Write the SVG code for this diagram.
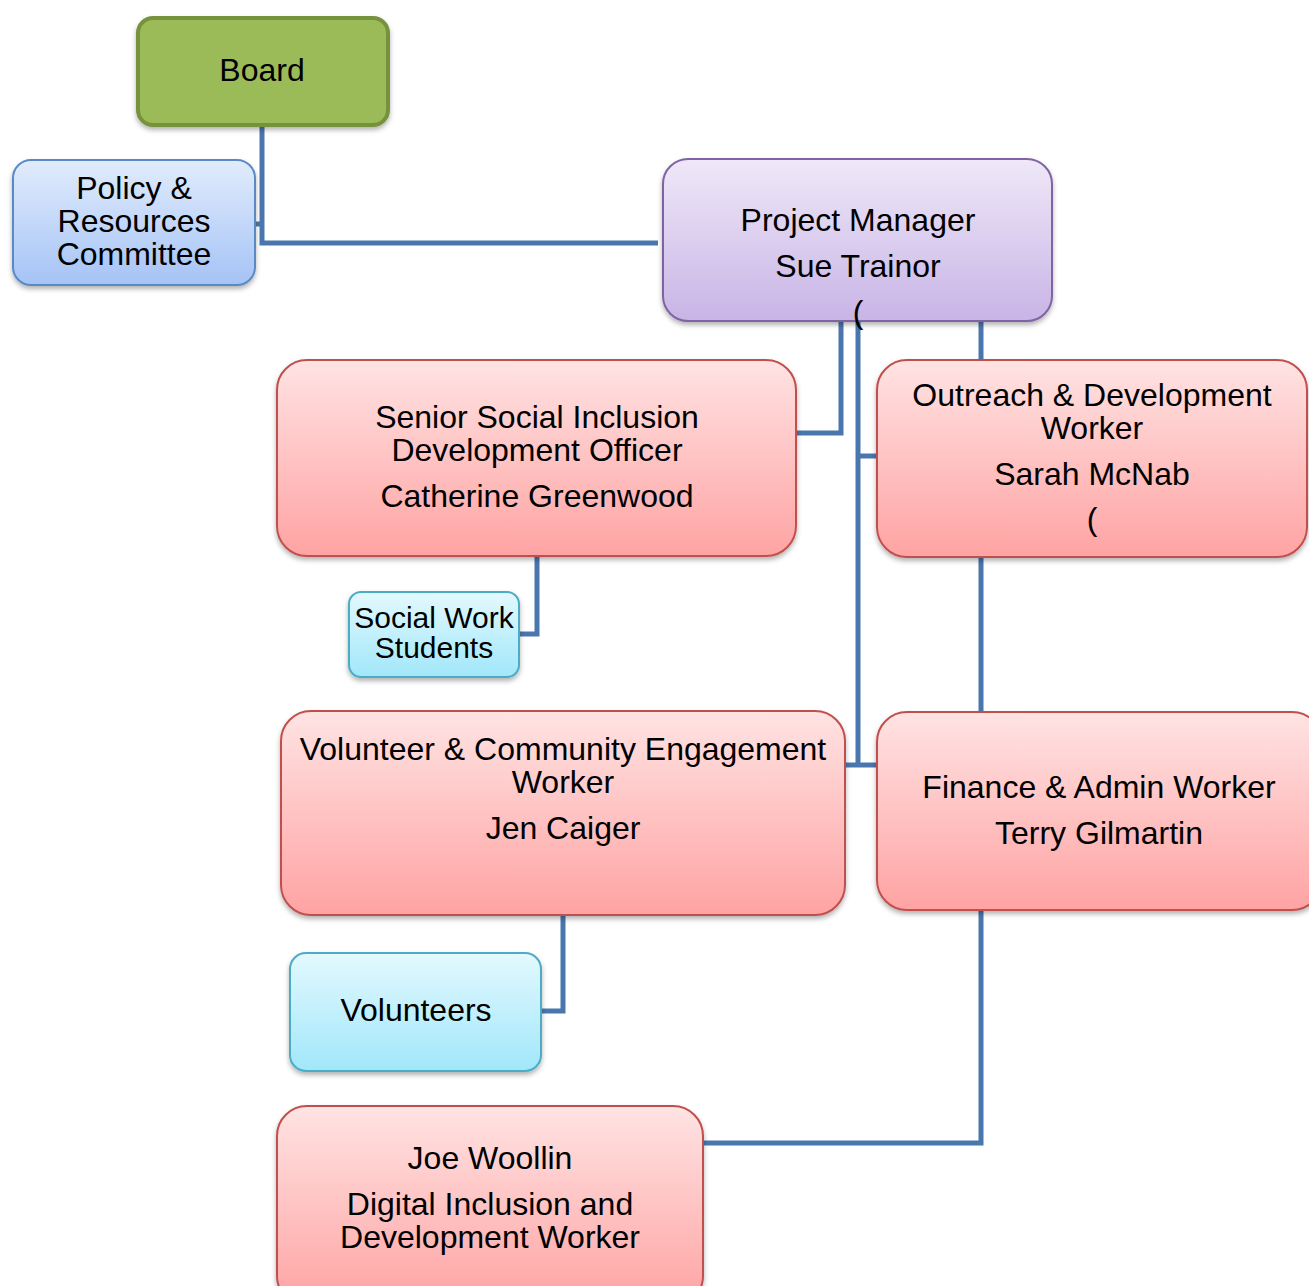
<svg xmlns="http://www.w3.org/2000/svg" width="1309" height="1286" viewBox="0 0 1309 1286">
<defs>
<linearGradient id="gPink" x1="0" y1="0" x2="0" y2="1"><stop offset="0" stop-color="#FFE3E3"/><stop offset="1" stop-color="#FFA3A3"/></linearGradient>
<linearGradient id="gBlue" x1="0" y1="0" x2="0" y2="1"><stop offset="0" stop-color="#E1ECFC"/><stop offset="1" stop-color="#A5C3F6"/></linearGradient>
<linearGradient id="gLav" x1="0" y1="0" x2="0" y2="1"><stop offset="0" stop-color="#EFE8F8"/><stop offset="1" stop-color="#C8B4E6"/></linearGradient>
<linearGradient id="gCyan" x1="0" y1="0" x2="0" y2="1"><stop offset="0" stop-color="#E3F9FE"/><stop offset="1" stop-color="#A1E7FA"/></linearGradient>
<filter id="sh" x="-10%" y="-10%" width="120%" height="130%"><feDropShadow dx="0" dy="3" stdDeviation="2.5" flood-color="#000" flood-opacity="0.3"/></filter>
</defs>
<style>
text{font-family:"Liberation Sans",Arial,sans-serif;font-size:32px;fill:#000;text-anchor:middle}
.sm{font-size:30px}
.pink{fill:url(#gPink);stroke:#C0504D;stroke-width:2}
.blue{fill:url(#gBlue);stroke:#5A8AC6;stroke-width:2}
.lav{fill:url(#gLav);stroke:#8064A2;stroke-width:2}
.cyan{fill:url(#gCyan);stroke:#4BACC6;stroke-width:2}
.con{fill:none;stroke:#4A76AE;stroke-width:5}
</style>
<g id="connectors">
<path class="con" d="M262,125 V243 H658"/>
<path class="con" d="M255,224 H262"/>
<path class="con" d="M841,321 V433 H796"/>
<path class="con" d="M858,321 V765"/>
<path class="con" d="M858,456 H877"/>
<path class="con" d="M845,765 H877"/>
<path class="con" d="M981,321 V360"/>
<path class="con" d="M981,557 V712"/>
<path class="con" d="M981,910 V1143 H703"/>
<path class="con" d="M537,556 V634 H519"/>
<path class="con" d="M563,915 V1011 H541"/>
</g>
<g id="board">
<rect x="138" y="18" width="250" height="107" rx="15" fill="#9BBB59" stroke="#76923C" stroke-width="4" filter="url(#sh)"/>
<text x="262" y="81">Board</text>
</g>
<g id="policy">
<rect x="13" y="160" width="242" height="125" rx="18" class="blue" filter="url(#sh)"/>
<text x="134" y="199">Policy &amp;</text>
<text x="134" y="232">Resources</text>
<text x="134" y="265">Committee</text>
</g>
<g id="project-manager">
<rect x="663" y="159" width="389" height="162" rx="25" class="lav" filter="url(#sh)"/>
<text x="858" y="231">Project Manager</text>
<text x="858" y="277">Sue Trainor</text>
<text x="858" y="323">(</text>
</g>
<g id="senior">
<rect x="277" y="360" width="519" height="196" rx="30" class="pink" filter="url(#sh)"/>
<text x="537" y="428">Senior Social Inclusion</text>
<text x="537" y="461">Development Officer</text>
<text x="537" y="507">Catherine Greenwood</text>
</g>
<g id="outreach">
<rect x="877" y="360" width="430" height="197" rx="30" class="pink" filter="url(#sh)"/>
<text x="1092" y="406">Outreach &amp; Development</text>
<text x="1092" y="439">Worker</text>
<text x="1092" y="485">Sarah McNab</text>
<text x="1092" y="530">(</text>
</g>
<g id="social-work">
<rect x="349" y="592" width="170" height="85" rx="12" class="cyan" filter="url(#sh)"/>
<text class="sm" x="434" y="628">Social Work</text>
<text class="sm" x="434" y="658">Students</text>
</g>
<g id="volunteer-worker">
<rect x="281" y="711" width="564" height="204" rx="30" class="pink" filter="url(#sh)"/>
<text x="563" y="760">Volunteer &amp; Community Engagement</text>
<text x="563" y="793">Worker</text>
<text x="563" y="839">Jen Caiger</text>
</g>
<g id="finance">
<rect x="877" y="712" width="445" height="198" rx="30" class="pink" filter="url(#sh)"/>
<text x="1099" y="798">Finance &amp; Admin Worker</text>
<text x="1099" y="844">Terry Gilmartin</text>
</g>
<g id="volunteers">
<rect x="290" y="953" width="251" height="118" rx="16" class="cyan" filter="url(#sh)"/>
<text x="416" y="1021">Volunteers</text>
</g>
<g id="joe">
<rect x="277" y="1106" width="426" height="200" rx="30" class="pink" filter="url(#sh)"/>
<text x="490" y="1169">Joe Woollin</text>
<text x="490" y="1215">Digital Inclusion and</text>
<text x="490" y="1248">Development Worker</text>
</g>
</svg>
